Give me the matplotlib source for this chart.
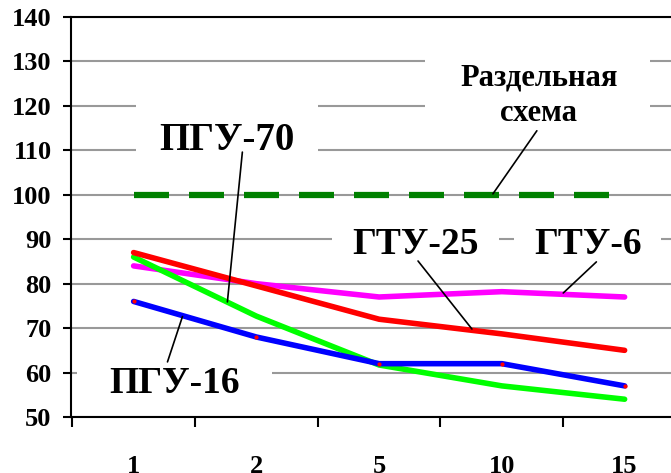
import numpy as np
import matplotlib
matplotlib.use('Agg')
import matplotlib.pyplot as plt
from matplotlib.patches import Rectangle

plt.rcParams['font.family'] = ['Liberation Serif', 'DejaVu Serif']
plt.rcParams['font.weight'] = 'bold'

# data
categories = ['1', '2', '5', '10', '15']
pgu16 = [76, 68, 62, 62, 57]
pgu70 = [86, 72.7, 61.7, 57, 54]
gtu25 = [87, 79.5, 72, 68.7, 65]
gtu6 = [84, 80, 77, 78.2, 77]
separate = [100, 100, 100, 100, 100]

x = np.arange(len(categories))

fig = plt.figure(figsize=(6.71, 4.73), dpi=100)
ax = fig.add_axes([71 / 671, 1 - 417 / 473, 615 / 671, 400 / 473])

ax.set_ylim(50, 140)
ax.set_xlim(-0.51, 4.49)
ax.set_yticks(np.arange(50, 141, 10))
ax.grid(axis='y', color='#999999', linewidth=1.5, zorder=0.5)
ax.set_axisbelow(True)

ax.plot(x, separate, color='#008000', linewidth=4.5, dashes=(5.6, 3.2),
        dash_capstyle='butt', zorder=2)
ax.plot(x, gtu6, color='#FF00FF', linewidth=4.0, solid_capstyle='round', zorder=2)
ax.plot(x, pgu70, color='#00FF00', linewidth=4.0, solid_capstyle='round', zorder=2.1)
ax.plot(x, gtu25, color='#FF0000', linewidth=4.0, solid_capstyle='round', zorder=2.2)
ax.plot(x, pgu16, color='#0000FF', linewidth=4.0, solid_capstyle='round',
        marker='o', markersize=3, markerfacecolor='red', markeredgewidth=0, zorder=2.3)

# spines / ticks
for s in ['top', 'bottom', 'left']:
    ax.spines[s].set_linewidth(1.5)
    ax.spines[s].set_zorder(3)
ax.spines['right'].set_visible(False)
ax.tick_params(axis='y', direction='out', length=6, width=1.5, pad=8, labelsize=19)
ax.set_xticks(x)
ax.set_xticklabels(categories)
ax.set_xticks(np.arange(-0.5, 5, 1), minor=True)
ax.tick_params(axis='x', which='major', length=0, pad=27, labelsize=19)
ax.tick_params(axis='x', which='minor', direction='out', length=7.5, width=1.5)
for lab in ax.get_xticklabels() + ax.get_yticklabels():
    lab.set_fontweight('bold')

# white label backgrounds (hide gridlines behind the labels)
for (x0, x1, y0, y1) in [(0.02, 1.50, 105.6, 121.3),
                         (1.62, 2.98, 84.9, 93.2),
                         (3.10, 4.30, 84.9, 93.2),
                         (-0.46, 1.13, 55.5, 64.0),
                         (2.37, 4.21, 112.3, 132.5)]:
    ax.add_patch(Rectangle((x0, y0), x1 - x0, y1 - y0, facecolor='white',
                           edgecolor='none', zorder=1.8))

ax.text(0.764, 112.3, 'ПГУ-70', fontsize=28, ha='center', va='center', zorder=3)
ax.text(2.30, 88.9, 'ГТУ-25', fontsize=27, ha='center', va='center', zorder=3)
ax.text(3.70, 88.9, 'ГТУ-6', fontsize=27, ha='center', va='center', zorder=3)
ax.text(0.333, 57.6, 'ПГУ-16', fontsize=27, ha='center', va='center', zorder=3)
ax.text(3.30, 122.2, 'Раздельная\nсхема', fontsize=22, ha='center', va='center',
        linespacing=1.3, zorder=3)

lead = dict(arrowstyle='-', color='black', linewidth=1.2, shrinkA=0, shrinkB=0)
ax.annotate('', xy=(0.764, 75.9), xytext=(0.886, 109.6), arrowprops=lead, zorder=2.5)
ax.annotate('', xy=(2.756, 69.8), xytext=(2.317, 85.1), arrowprops=lead, zorder=2.5)
ax.annotate('', xy=(3.50, 77.9), xytext=(3.77, 84.9), arrowprops=lead, zorder=2.5)
ax.annotate('', xy=(0.398, 72.6), xytext=(0.276, 62.4), arrowprops=lead, zorder=2.5)
ax.annotate('', xy=(2.927, 100.2), xytext=(3.285, 114.4), arrowprops=lead, zorder=2.5)

fig.savefig('out.png', dpi=100)
